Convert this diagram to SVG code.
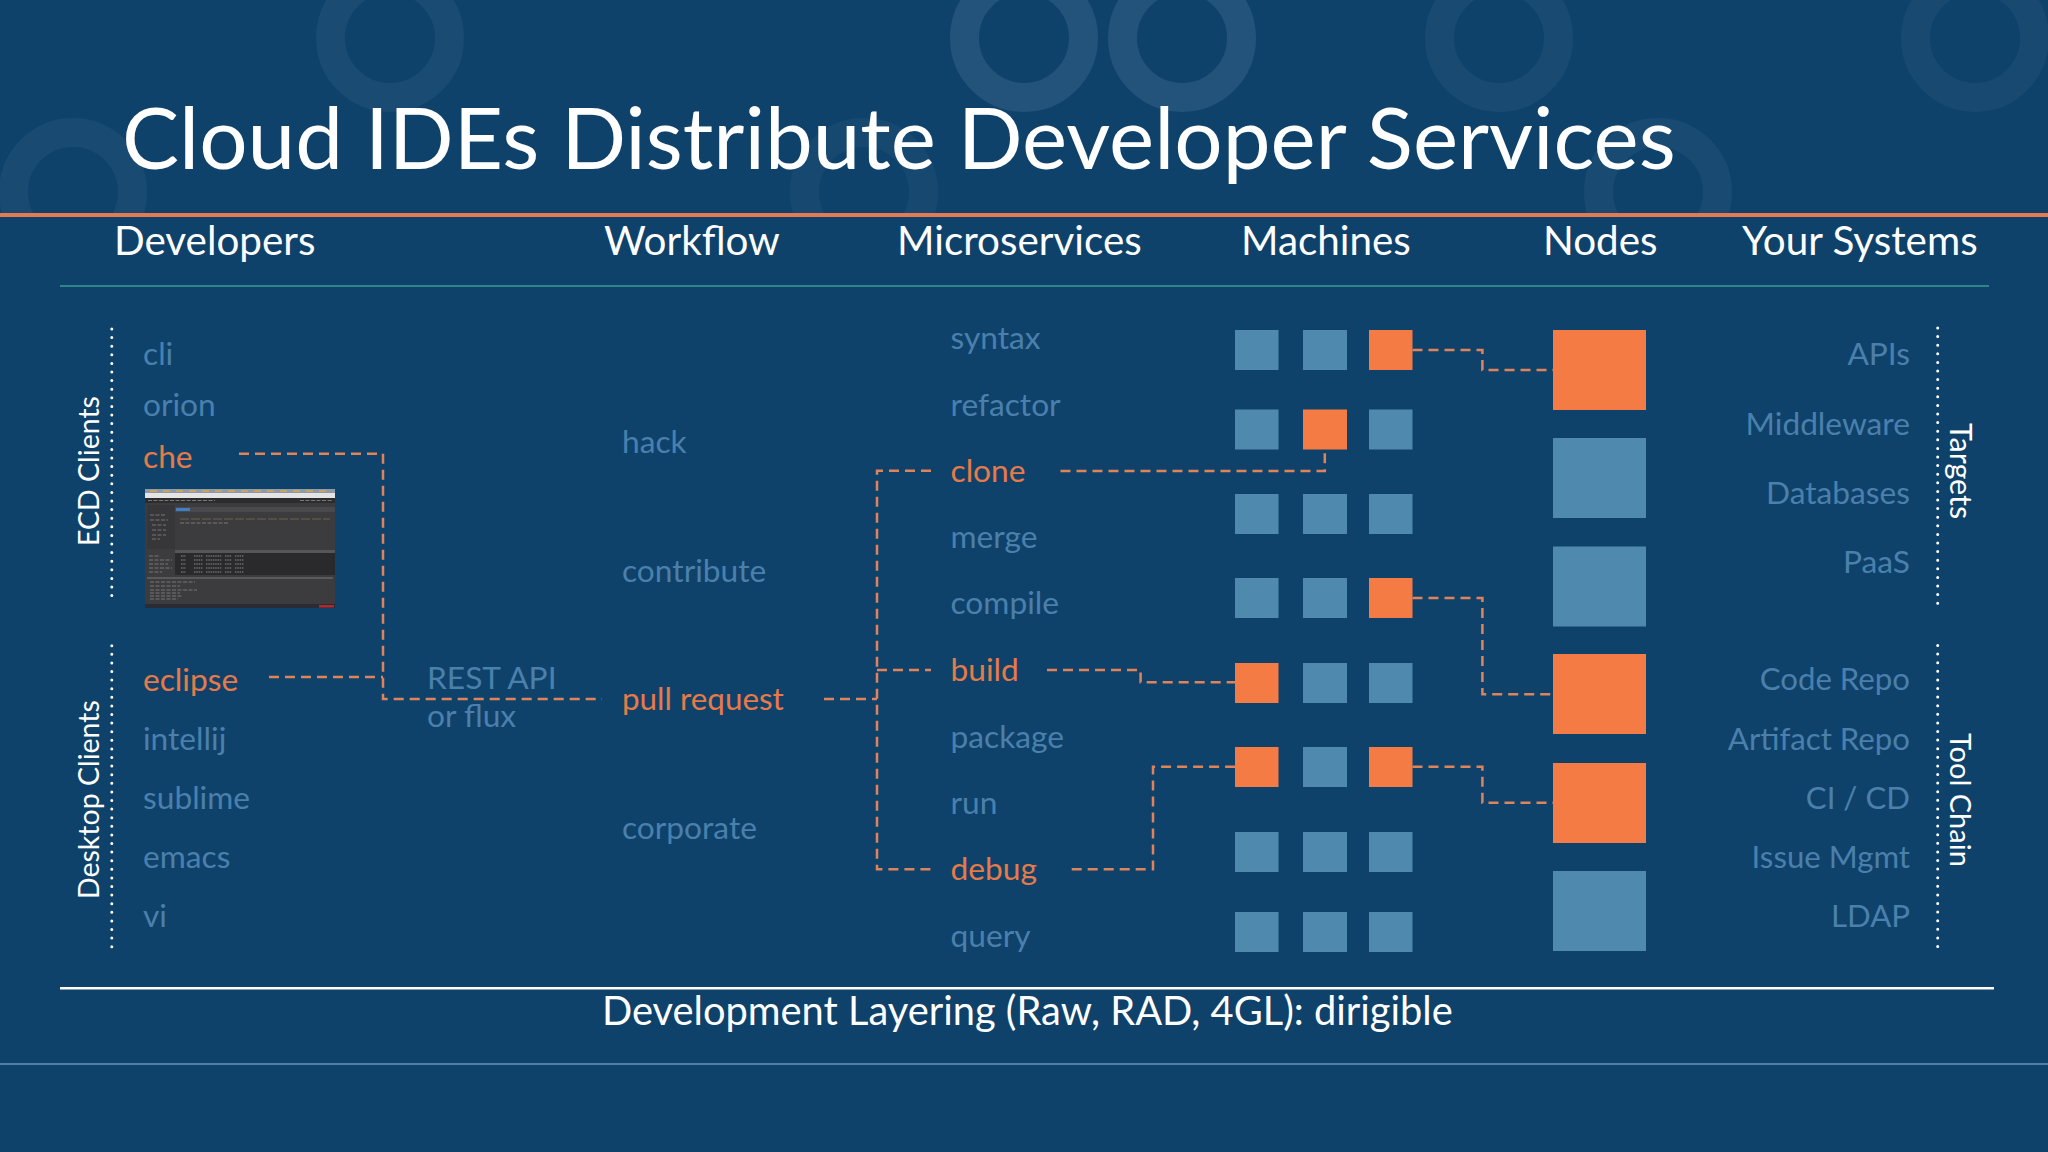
<svg xmlns="http://www.w3.org/2000/svg" width="2048" height="1152" viewBox="0 0 2048 1152">
<style>
text{font-family:"Lato","Open Sans","Liberation Sans",sans-serif}
.title{font-size:85.4px;fill:#fff}
.head{font-size:40.4px;fill:#fff}
.foot{font-size:39.8px;fill:#fff}
.side{font-size:28.5px;fill:#fff}
.m{font-size:31.7px;fill:#4a80ab}
.o{font-size:31.7px;fill:#e67a48}
.e{text-anchor:end}
.tc{font-size:31.2px}
.sq{fill:#5089ae}
.on{fill:#f47c44}
.dot{fill:none;stroke:#fff;stroke-width:3;stroke-linecap:round;stroke-dasharray:0 8.6}
.c{fill:none;stroke:#e0835a;stroke-width:2.5;stroke-dasharray:10 6}
.r{fill:none;stroke-width:29}
.t{fill:none;stroke:#8a8a8c;stroke-width:1.2;stroke-dasharray:1.5 .8}
.u{fill:none;stroke:#77777a;stroke-width:1.2;stroke-dasharray:4 1.5}
</style>
<defs><clipPath id="hdr"><rect width="2048" height="215"/></clipPath></defs>
<rect width="2048" height="1152" fill="#0f426b"/>
<g id="rings" clip-path="url(#hdr)">
<circle class="r" cx="390" cy="38" r="59.5" stroke="#194b73"/>
<circle class="r" cx="1024" cy="38" r="59.5" stroke="#23537a"/>
<circle class="r" cx="1182" cy="38" r="59.5" stroke="#23537a"/>
<circle class="r" cx="1499" cy="38" r="59.5" stroke="#194a72"/>
<circle class="r" cx="1975" cy="38" r="59.5" stroke="#184971"/>
<circle class="r" cx="73" cy="192" r="59.5" stroke="#194a72"/>
<circle class="r" cx="864" cy="192" r="59.5" stroke="#174970"/>
<circle class="r" cx="1658" cy="192" r="59.5" stroke="#194a72"/>
</g>
<text id="title" class="title" x="122" y="169">Cloud IDEs Distribute Developer Services</text>
<rect x="0" y="213" width="2048" height="4" fill="#e47a52"/>
<rect x="60" y="285" width="1929" height="2" fill="#2f8587"/>
<rect x="60" y="987" width="1934" height="2.5" fill="#fff"/>
<rect x="0" y="1063" width="2048" height="2" fill="#4f7fa8"/>
<g id="headers">
<text class="head" x="114" y="255">Developers</text>
<text class="head" x="604" y="255">Workflow</text>
<text class="head" x="897" y="255">Microservices</text>
<text class="head" x="1241" y="255">Machines</text>
<text class="head" x="1543" y="255">Nodes</text>
<text class="head" x="1742" y="255">Your Systems</text>
</g>
<g id="connectors">
<path class="c" d="M239 453.7H383V699H602"/>
<path class="c" d="M269 677H383"/>
<path class="c" d="M824 699H877"/>
<path class="c" d="M931 470.7H877V869.3H931"/>
<path class="c" d="M877 670H931"/>
<path class="c" d="M1060.5 471H1324.8V449"/>
<path class="c" d="M1047 670H1140.6V682.3H1235"/>
<path class="c" d="M1071.7 869.3H1153V766.7H1235"/>
<path class="c" d="M1412.5 350H1482.4V370H1553"/>
<path class="c" d="M1412.5 598H1482.4V694.3H1553"/>
<path class="c" d="M1412.5 766.7H1482.4V802.7H1553"/>
</g>
<g id="ecd-clients">
<path class="dot" d="M111.8 329V603"/>
<text class="side" transform="translate(99 546) rotate(-90)">ECD Clients</text>
<text class="m" x="143" y="365">cli</text>
<text class="m" x="143" y="416">orion</text>
<text class="o" x="143" y="468">che</text>
</g>
<g id="che-screenshot">
<rect x="145" y="489" width="190" height="119" fill="#3c3c3e"/>
<rect x="145" y="489" width="190" height="4" fill="#8f9aa5"/>
<path d="M150 491H330" fill="none" stroke="#c9a46a" stroke-width="2" stroke-dasharray="7 6"/>
<rect x="145" y="493" width="190" height="5" fill="#e4e4e4"/>
<rect x="145" y="498" width="190" height="5" fill="#2c2c2e"/>
<path class="u" d="M148 500.500H215M300 500.500H333"/>
<rect x="147" y="505" width="28" height="44" fill="#37373a"/>
<rect x="175" y="507" width="160" height="5" fill="#4a4a4d"/>
<rect x="176" y="508" width="14" height="3" fill="#3f7fc4"/>
<path d="M180 519H330" fill="none" stroke="#6a6248" stroke-width="1.2" stroke-dasharray="9 2"/>
<path class="u" d="M180 523H228"/>
<path class="u" d="M150 515H166M150 520H168M152 525H166M152 530H166M152 535H166M152 539H160"/>
<rect x="175" y="550" width="160" height="3" fill="#55555a"/>
<rect x="175" y="553" width="160" height="22" fill="#2a2a2c"/>
<path class="t" d="M181 556H186M181 560H186M181 564H186M181 568H186M181 572H186M194 556H203M194 560H203M194 564H203M194 568H203M194 572H203M206 556H222M206 560H222M206 564H222M206 568H222M206 572H222M225 556H232M225 560H232M225 564H232M225 568H232M225 572H232M235 556H244M235 560H244M235 564H244M235 568H244M235 572H244"/>
<path class="u" d="M149 556H160M149 560H172M149 564H168M149 568H172M149 572H162"/>
<rect x="147" y="577" width="186" height="2" fill="#5a5a5c"/>
<path class="u" d="M150 582H195M150 586H180M150 590H197M150 593H180M150 596H183M150 599H178"/>
<rect x="145" y="604" width="190" height="4" fill="#2b2b35"/>
<rect x="319" y="605" width="15" height="2.5" fill="#b3282d"/>
</g>
<g id="desktop-clients">
<path class="dot" d="M111.8 645.7V953"/>
<text class="side" transform="translate(99 899) rotate(-90)">Desktop Clients</text>
<text class="o" x="143" y="691">eclipse</text>
<text class="m" x="143" y="750">intellij</text>
<text class="m" x="143" y="809">sublime</text>
<text class="m" x="143" y="868">emacs</text>
<text class="m" x="143" y="927">vi</text>
</g>
<g id="rest-api">
<text class="m" x="427" y="689">REST API</text>
<text class="m" x="427" y="727">or flux</text>
</g>
<g id="workflow">
<text class="m" x="622" y="453">hack</text>
<text class="m" x="622" y="582">contribute</text>
<text class="o" style="font-size:31.4px" x="622" y="710">pull request</text>
<text class="m" x="622" y="839">corporate</text>
</g>
<g id="microservices">
<text class="m" x="950.500" y="349">syntax</text>
<text class="m" x="950.500" y="416">refactor</text>
<text class="o" x="950.500" y="482">clone</text>
<text class="m" x="950.500" y="548">merge</text>
<text class="m" x="950.500" y="614">compile</text>
<text class="o" x="950.500" y="681">build</text>
<text class="m" x="950.500" y="748">package</text>
<text class="m" x="950.500" y="814">run</text>
<text class="o" x="950.500" y="880">debug</text>
<text class="m" x="950.500" y="947">query</text>
</g>
<g id="machines">
<g id="m1"><rect class="sq" x="1235" y="330" width="43.5" height="40"/><rect class="sq" x="1303" y="330" width="44" height="40"/><rect class="on" x="1369" y="330" width="43.5" height="40"/></g>
<g id="m2"><rect class="sq" x="1235" y="409.500" width="43.5" height="40"/><rect class="on" x="1303" y="409.500" width="44" height="40"/><rect class="sq" x="1369" y="409.500" width="43.5" height="40"/></g>
<g id="m3"><rect class="sq" x="1235" y="494" width="43.5" height="40"/><rect class="sq" x="1303" y="494" width="44" height="40"/><rect class="sq" x="1369" y="494" width="43.5" height="40"/></g>
<g id="m4"><rect class="sq" x="1235" y="578" width="43.5" height="40"/><rect class="sq" x="1303" y="578" width="44" height="40"/><rect class="on" x="1369" y="578" width="43.5" height="40"/></g>
<g id="m5"><rect class="on" x="1235" y="663" width="43.5" height="40"/><rect class="sq" x="1303" y="663" width="44" height="40"/><rect class="sq" x="1369" y="663" width="43.5" height="40"/></g>
<g id="m6"><rect class="on" x="1235" y="747" width="43.5" height="40"/><rect class="sq" x="1303" y="747" width="44" height="40"/><rect class="on" x="1369" y="747" width="43.5" height="40"/></g>
<g id="m7"><rect class="sq" x="1235" y="832" width="43.5" height="40"/><rect class="sq" x="1303" y="832" width="44" height="40"/><rect class="sq" x="1369" y="832" width="43.5" height="40"/></g>
<g id="m8"><rect class="sq" x="1235" y="912" width="43.5" height="40"/><rect class="sq" x="1303" y="912" width="44" height="40"/><rect class="sq" x="1369" y="912" width="43.5" height="40"/></g>
</g>
<g id="nodes">
<rect id="n1" class="on" x="1553" y="330" width="93" height="80"/>
<rect id="n2" class="sq" x="1553" y="438" width="93" height="80"/>
<rect id="n3" class="sq" x="1553" y="546.500" width="93" height="80"/>
<rect id="n4" class="on" x="1553" y="654" width="93" height="80"/>
<rect id="n5" class="on" x="1553" y="763" width="93" height="80"/>
<rect id="n6" class="sq" x="1553" y="871" width="93" height="80"/>
</g>
<g id="targets">
<text class="m e" x="1910" y="365">APIs</text>
<text class="m e" x="1910" y="435">Middleware</text>
<text class="m e" x="1910" y="504">Databases</text>
<text class="m e" x="1910" y="573">PaaS</text>
<path class="dot" d="M1937.7 328V604"/>
<text class="side" style="font-size:30.5px" transform="translate(1950 423) rotate(90)">Targets</text>
</g>
<g id="tool-chain">
<text class="m e tc" x="1910" y="690">Code Repo</text>
<text class="m e tc" x="1910" y="750">Artifact Repo</text>
<text class="m e tc" x="1910" y="809">CI / CD</text>
<text class="m e tc" x="1910" y="868">Issue Mgmt</text>
<text class="m e tc" x="1910" y="927">LDAP</text>
<path class="dot" d="M1937.7 645.5V953"/>
<text class="side" style="font-size:29px" transform="translate(1950 733) rotate(90)">Tool Chain</text>
</g>
<text id="footer" class="foot" x="602" y="1025">Development Layering (Raw, RAD, 4GL): dirigible</text>
</svg>
